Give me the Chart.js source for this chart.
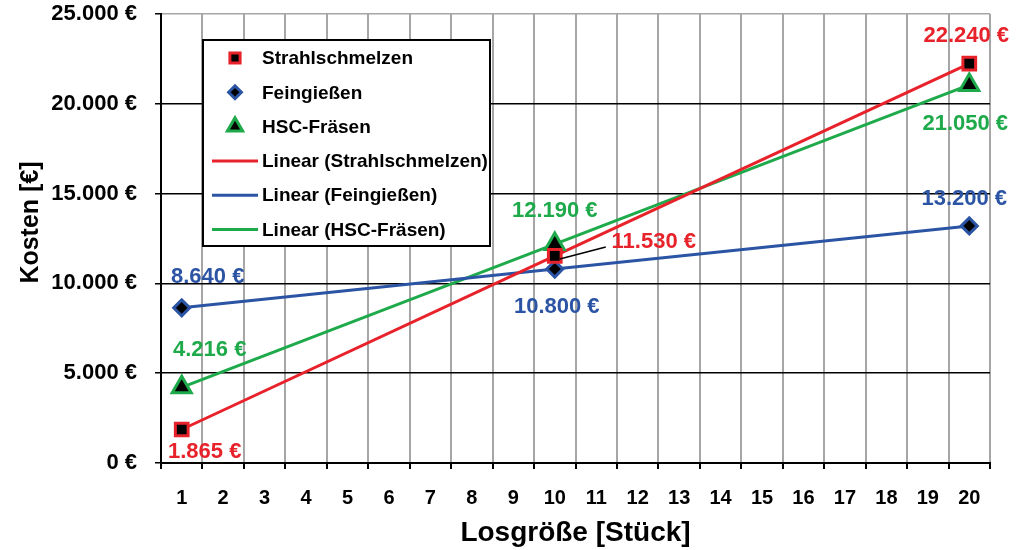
<!DOCTYPE html>
<html>
<head>
<meta charset="utf-8">
<script src="https://cdn.jsdelivr.net/npm/chart.js@4.4.0/dist/chart.umd.min.js"></script>
<style>
    body { margin: 0; background: #fff; }
    #wrap { width: 1021px; height: 550px; }
</style>
</head>
<body>
<div id="wrap"><canvas id="costChart" width="1021" height="550"></canvas></div>
<script>
// Kostenvergleich nach Losgröße

const categories = ['1', '2', '3', '4', '5', '6', '7', '8', '9', '10',
    '11', '12', '13', '14', '15', '16', '17', '18', '19', '20'];
const lotSizes = ['1', '10', '20'];
const strahlschmelzen = [1865, 11530, 22240];
const feingiessen = [8640, 10800, 13200];
const hscFraesen = [4216, 12190, 21050];
const seriesNames = ['Strahlschmelzen', 'Feingießen', 'HSC-Fräsen'];

const RED = '#E8222A';
const BLUE = '#2B54A4';
const GREEN = '#1EAA4B';
const FONT = "'Liberation Sans', Arial, sans-serif";

// label offsets (px) relative to each point
const labelOffsets = [
    [[23, 22], [99, -14], [-3, -28]],
    [[26, -31], [2, 38], [-5, -27]],
    [[28, -37], [0, -33], [-4, 39]]
];

function eur(v) {
    return String(v).replace(/\B(?=(\d{3})+(?!\d))/g, '.') + ' €';
}

function toPoints(values) {
    return lotSizes.map((l, i) => ({ x: l, y: values[i] }));
}

const markerStyles = [
    { pointStyle: 'rect', radius: 9, color: RED },
    { pointStyle: 'rectRot', radius: 8, color: BLUE },
    { pointStyle: 'triangle', radius: 11, color: GREEN }
];
const allValues = [strahlschmelzen, feingiessen, hscFraesen];

const datasets = [];
// markers first so they are drawn on top
allValues.forEach((vals, i) => {
    datasets.push({
        label: seriesNames[i],
        data: toPoints(vals),
        showLine: false,
        pointStyle: markerStyles[i].pointStyle,
        pointRadius: markerStyles[i].radius,
        pointBackgroundColor: '#000',
        pointBorderColor: markerStyles[i].color,
        pointBorderWidth: 3
    });
});
allValues.forEach((vals, i) => {
    datasets.push({
        label: 'Linear (' + seriesNames[i] + ')',
        data: toPoints(vals),
        borderColor: markerStyles[i].color,
        borderWidth: 3,
        pointRadius: 0,
        spanGaps: true,
        tension: 0
    });
});

const valueLabels = {
    id: 'valueLabels',
    afterDatasetsDraw(chart) {
        const ctx = chart.ctx;
        ctx.save();
        ctx.font = 'bold 22px ' + FONT;
        ctx.textAlign = 'center';
        ctx.textBaseline = 'middle';
        for (let i = 0; i < 3; i++) {
            const meta = chart.getDatasetMeta(i);
            meta.data.forEach((pt, j) => {
                const off = labelOffsets[i][j];
                if (i === 0 && j === 1) {
                    // leader line to 11.530 €
                    ctx.strokeStyle = '#000';
                    ctx.lineWidth = 1.5;
                    ctx.beginPath();
                    ctx.moveTo(pt.x + 5, pt.y + 3);
                    ctx.lineTo(pt.x + 51, pt.y - 9);
                    ctx.stroke();
                }
                ctx.fillStyle = markerStyles[i].color;
                ctx.fillText(eur(allValues[i][j]), pt.x + off[0], pt.y + off[1]);
            });
        }
        ctx.restore();
    }
};

const boxLegend = {
    id: 'boxLegend',
    afterDraw(chart) {
        const ctx = chart.ctx;
        const area = chart.chartArea;
        const left = area.left + 42;
        const top = area.top + 26;
        const w = 287, h = 206;
        ctx.save();
        ctx.fillStyle = '#fff';
        ctx.fillRect(left, top, w, h);
        ctx.strokeStyle = '#000';
        ctx.lineWidth = 2;
        ctx.strokeRect(left, top, w, h);

        ctx.font = 'bold 19px ' + FONT;
        ctx.textBaseline = 'middle';
        ctx.textAlign = 'left';
        datasets.forEach((ds, k) => {
            const y = top + 18 + k * 34.3;
            const s = markerStyles[k % 3];
            if (k < 3) {
                ctx.fillStyle = '#000';
                ctx.strokeStyle = s.color;
                ctx.lineWidth = 3;
                Chart.helpers.drawPoint(ctx, {
                    pointStyle: s.pointStyle,
                    radius: s.radius * 0.8,
                    rotation: 0,
                    borderWidth: 3
                }, left + 32, y);
            } else {
                ctx.strokeStyle = s.color;
                ctx.lineWidth = 3;
                ctx.beginPath();
                ctx.moveTo(left + 9, y);
                ctx.lineTo(left + 55, y);
                ctx.stroke();
            }
            ctx.fillStyle = '#000';
            ctx.fillText(ds.label, left + 59, y + 1);
        });
        ctx.restore();
    }
};

// y axis title, drawn a little above the axis centre like the original
const yTitle = {
    id: 'yTitle',
    afterDraw(chart) {
        const ctx = chart.ctx;
        const area = chart.chartArea;
        ctx.save();
        ctx.translate(31, (area.top + area.bottom) / 2 - 16);
        ctx.rotate(-Math.PI / 2);
        ctx.font = 'bold 25px ' + FONT;
        ctx.fillStyle = '#000';
        ctx.textAlign = 'center';
        ctx.textBaseline = 'middle';
        ctx.fillText('Kosten [€]', 0, 0);
        ctx.restore();
    }
};

const ctx = document.getElementById('costChart').getContext('2d');
new Chart(ctx, {
    type: 'line',
    data: {
        labels: categories,
        datasets: datasets
    },
    plugins: [valueLabels, boxLegend, yTitle],
    options: {
        responsive: false,
        animation: false,
        layout: {
            padding: { top: 13, right: 31, left: 0, bottom: 0 }
        },
        plugins: {
            legend: { display: false },
            tooltip: { enabled: false }
        },
        scales: {
            x: {
                type: 'category',
                offset: true,
                grid: {
                    offset: true,
                    color: '#A6A6A6',
                    lineWidth: 2,
                    tickColor: '#000',
                    tickLength: 6
                },
                border: { color: '#000', width: 2 },
                ticks: {
                    color: '#000',
                    font: { family: FONT, size: 20, weight: 'bold' },
                    padding: 17,
                    maxRotation: 0,
                    autoSkip: false
                },
                title: {
                    display: true,
                    text: 'Losgröße [Stück]',
                    color: '#000',
                    font: { family: FONT, size: 28, weight: 'bold' },
                    padding: { top: 0, bottom: 0 }
                },
                afterFit(scale) {
                    scale.height = 87;
                    scale.paddingLeft = 0;
                    scale.paddingRight = 0;
                }
            },
            y: {
                min: 0,
                max: 25000,
                ticks: {
                    stepSize: 5000,
                    color: '#000',
                    font: { family: FONT, size: 22, weight: 'bold' },
                    padding: 18,
                    callback: v => eur(v)
                },
                grid: {
                    color: c => (c.tick && c.tick.value === 25000 ? '#A6A6A6' : '#000'),
                    lineWidth: 1.5,
                    tickColor: '#000',
                    tickLength: 6
                },
                border: { color: '#000', width: 2 },
                afterFit(scale) {
                    scale.width = 161;
                    scale.paddingTop = 0;
                    scale.paddingBottom = 0;
                }
            }
        }
    }
});
</script>
</body>
</html>
